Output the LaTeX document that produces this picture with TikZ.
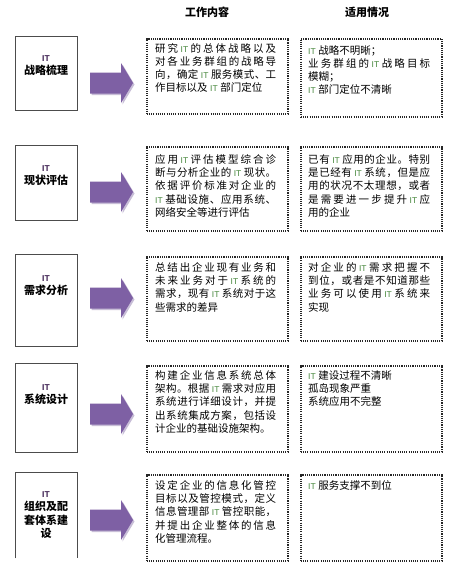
\documentclass[tikz,border=0pt]{standalone}
\usepackage{fontspec}
\setmainfont{Noto Sans CJK SC}
\newfontfamily\lat{Liberation Sans}
\definecolor{itg}{RGB}{70,135,60}
\definecolor{itp}{RGB}{60,30,80}
\definecolor{arr}{RGB}{126,96,164}
\definecolor{arrsh}{RGB}{200,190,215}
\XeTeXinterchartokenstate=1
\newcount\cjkcc
\cjkcc="4E00
\loop
  \XeTeXcharclass\cjkcc=1
  \advance\cjkcc by 1
\ifnum\cjkcc<"A000 \repeat
\XeTeXcharclass"3001=1
\XeTeXcharclass"3002=1
\XeTeXcharclass"FF0C=1
\XeTeXcharclass"FF1B=1
\XeTeXinterchartoks 1 1 = {\hskip 0pt plus 3pt minus 0.8pt\relax}
\newlength\mw \setlength\mw{121pt}
\newlength\rw \setlength\rw{122pt}
\newcommand\jm[1]{\makebox[\mw][s]{#1}}
\newcommand\jr[1]{\makebox[\rw][s]{#1}}
\newcommand\IT{\hspace{2.5pt}{\lat\fontsize{8.5}{9}\selectfont\color{itg}IT}\hspace{2.5pt}}
\newcommand\ITl{{\lat\fontsize{8.5}{9}\selectfont\color{itg}IT}\hspace{2.5pt}}
\newcommand\LIT{{\lat\bfseries\fontsize{8.5}{9}\selectfont\color{itp}IT}}
\newcommand\blockarrow[2]{%
  \fill[#2] (90,{#1-10.5}) -- (121,{#1-10.5}) -- (121,{#1-20}) -- (133,{#1})
    -- (121,{#1+20}) -- (121,{#1+10.5}) -- (90,{#1+10.5}) -- cycle;}
\tikzset{
  lbox/.style={draw=black!70, line width=0.8pt, fill=white, inner sep=0pt, anchor=north west},
  dbox/.style={draw=black!85, line width=1.5pt, dash pattern=on 1.1pt off 1.1pt, inner sep=0pt, anchor=north west},
  ctext/.style={anchor=north west, inner sep=0pt, align=left, font=\fontsize{10.5}{13.3}\selectfont},
  ltext/.style={anchor=north, inner sep=0pt, align=center, font=\fontsize{11}{13.5}\selectfont\bfseries},
  hdr/.style={inner sep=0pt, font=\fontsize{11}{13}\selectfont\bfseries},
  arrowbody/.style={fill=arr},
  arrowshadow/.style={fill=arrsh},
}
\begin{document}
\begin{tikzpicture}[x=1pt,y=-1pt]
\fill[white] (0,0) rectangle (451,570);
\useasboundingbox (0,0) rectangle (451,570);

% headers
\node[hdr] (h1) at (207,12) {工作内容};
\node[hdr] (h2) at (367,12) {适用情况};

% arrows
\foreach \c in {83,192,298,414,520}{
  \begin{scope}[shift={(1.5,1.5)}]\blockarrow{\c}{arrowshadow}\end{scope}
  \blockarrow{\c}{arrowbody}
}

% row 1
\node[lbox, minimum width=62pt, minimum height=74pt] (L1) at (15,36) {};
\node[ltext] (L1t) at (46,55) {\LIT\\[0pt]战略梳理};
\node[dbox, minimum width=141pt, minimum height=75pt] (M1) at (146,38) {};
\node[ctext] (M1t) at (155,43) {\jm{研究\IT 的总体战略以及}\\\jm{对各业务群组的战略导}\\\jm{向，确定\IT 服务模式、工}\\作目标以及\IT 部门定位};
\node[dbox, minimum width=141pt, minimum height=78pt] (R1) at (300,38) {};
\node[ctext] (R1t) at (308,45) {\ITl 战略不明晰；\\\jr{业务群组的\IT 战略目标}\\模糊；\\\ITl 部门定位不清晰};

% row 2
\node[lbox, minimum width=62pt, minimum height=75pt] (L2) at (15,145) {};
\node[ltext] (L2t) at (46,165) {\LIT\\[0pt]现状评估};
\node[dbox, minimum width=141pt, minimum height=84pt] (M2) at (146,146) {};
\node[ctext] (M2t) at (155,154) {\jm{应用\IT 评估模型综合诊}\\\jm{断与分析企业的\IT 现状。}\\\jm{依据评价标准对企业的}\\\jm{\ITl 基础设施、应用系统、}\\网络安全等进行评估};
\node[dbox, minimum width=141pt, minimum height=84pt] (R2) at (300,146) {};
\node[ctext] (R2t) at (308,154) {\jr{已有\IT 应用的企业。特别}\\\jr{是已经有\IT 系统，但是应}\\\jr{用的状况不太理想，或者}\\\jr{是需要进一步提升\IT 应}\\用的企业};

% row 3
\node[lbox, minimum width=62pt, minimum height=92pt] (L3) at (15,254) {};
\node[ltext] (L3t) at (46,275) {\LIT\\[0pt]需求分析};
\node[dbox, minimum width=141pt, minimum height=84pt] (M3) at (146,256) {};
\node[ctext] (M3t) at (155,262) {\jm{总结出企业现有业务和}\\\jm{未来业务对于\IT 系统的}\\\jm{需求，现有\IT 系统对于这}\\些需求的差异};
\node[dbox, minimum width=141pt, minimum height=84pt] (R3) at (300,256) {};
\node[ctext] (R3t) at (308,262) {\jr{对企业的\IT 需求把握不}\\\jr{到位，或者是不知道那些}\\\jr{业务可以使用\IT 系统来}\\实现};

% row 4
\node[lbox, minimum width=62pt, minimum height=89pt] (L4) at (15,363) {};
\node[ltext] (L4t) at (46,384) {\LIT\\[0pt]系统设计};
\node[dbox, minimum width=141pt, minimum height=86pt] (M4) at (146,365) {};
\node[ctext] (M4t) at (155,370) {\jm{构建企业信息系统总体}\\\jm{架构。根据\IT 需求对应用}\\\jm{系统进行详细设计，并提}\\\jm{出系统集成方案，包括设}\\计企业的基础设施架构。};
\node[dbox, minimum width=141pt, minimum height=86pt] (R4) at (300,365) {};
\node[ctext] (R4t) at (308,370) {\ITl 建设过程不清晰\\孤岛现象严重\\系统应用不完整};

% row 5
\node[inner sep=0pt, minimum width=62pt, minimum height=86pt, anchor=north west] (L5) at (15,472) {};
\draw[draw=black!70, line width=0.8pt] (L5.south west) -- (L5.north west) -- (L5.north east) -- (L5.south east);
\node[ltext] (L5t) at (46,491) {\LIT\\[0pt]组织及配\\套体系建\\设};
\node[dbox, minimum width=141pt, minimum height=86pt] (M5) at (146,474) {};
\node[ctext] (M5t) at (155,480) {\jm{设定企业的信息化管控}\\\jm{目标以及管控模式，定义}\\\jm{信息管理部\IT 管控职能，}\\\jm{并提出企业整体的信息}\\化管理流程。};
\node[dbox, minimum width=141pt, minimum height=86pt] (R5) at (300,474) {};
\node[ctext] (R5t) at (308,480) {\ITl 服务支撑不到位};
\end{tikzpicture}
\end{document}
